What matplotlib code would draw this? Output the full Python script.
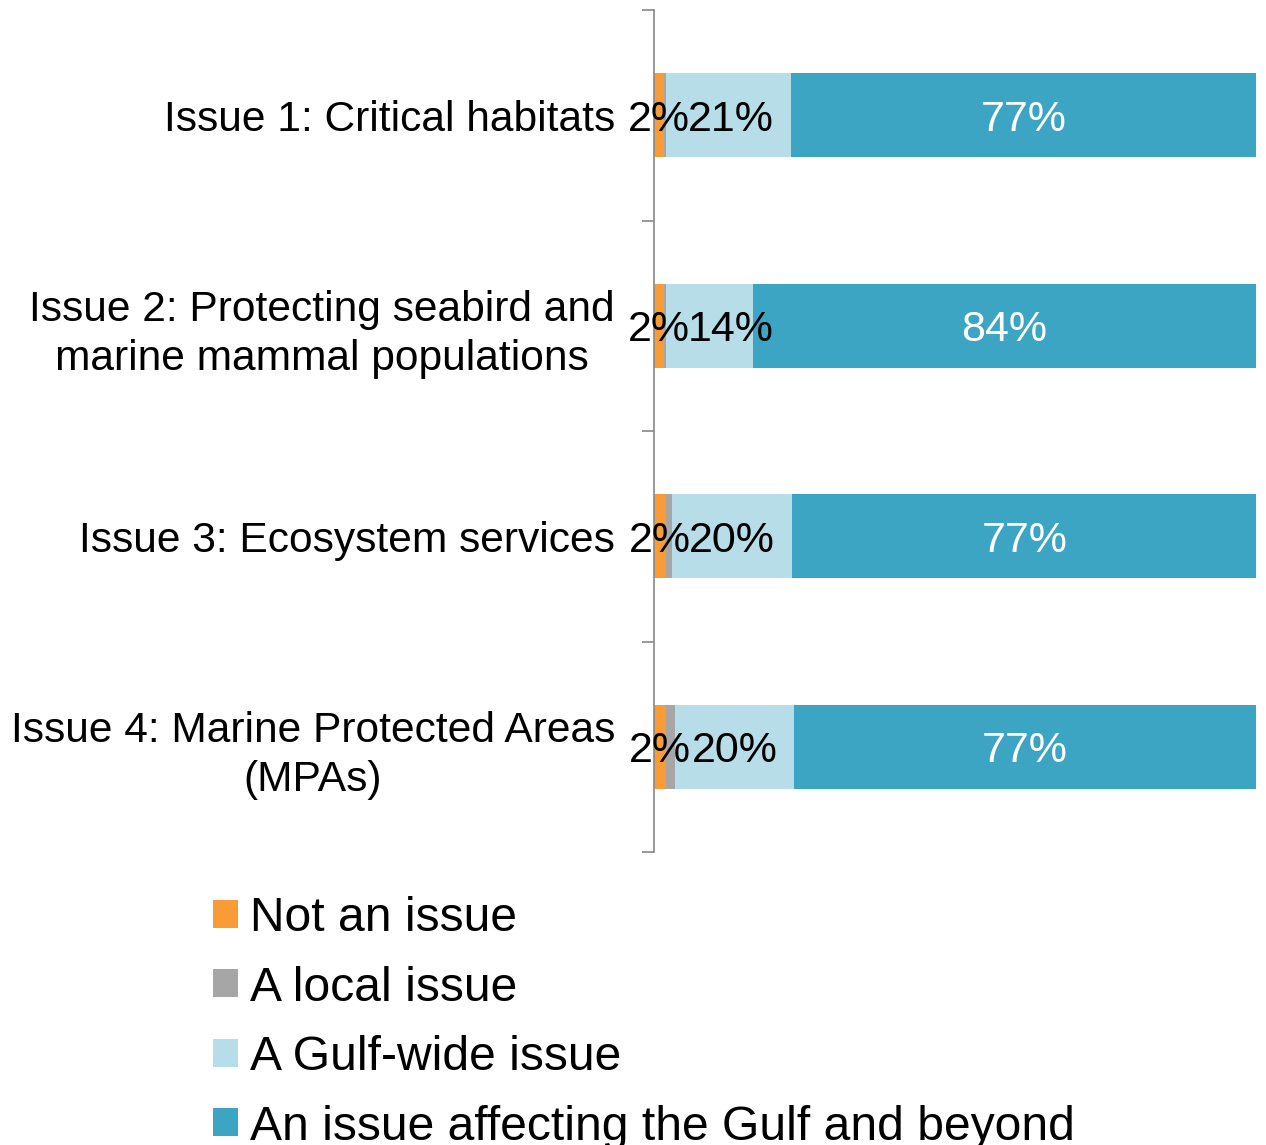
import matplotlib
matplotlib.use('Agg')
import matplotlib.pyplot as plt
import numpy as np

plt.rcParams['font.family'] = ['Liberation Sans', 'DejaVu Sans']

# ── data (percent of respondents)
issues = [
    'Issue 1: Critical habitats',
    'Issue 2: Protecting seabird and\nmarine mammal populations',
    'Issue 3: Ecosystem services',
    'Issue 4: Marine Protected Areas\n(MPAs)',
]
series_names = ['Not an issue', 'A local issue', 'A Gulf-wide issue',
                'An issue affecting the Gulf and beyond']
not_issue = [1.6, 1.6, 2.0, 2.0]
local     = [0.4, 0.4, 1.0, 1.5]
gulf_wide = [20.7, 14.4, 20.0, 19.8]
beyond    = [77.3, 83.6, 77.0, 76.7]

colors = ['#F99B37', '#A6A6A6', '#B7DEE8', '#3CA5C3']
label_colors = ['black', None, 'black', 'white']   # None -> no label
min_label_x = [0, 0, 12.8, 0]   # keep the Gulf-wide label clear of the "2%"

fig = plt.figure(figsize=(12.66, 11.45), dpi=100)
ax = fig.add_axes([654/1266, 1 - 852/1145, (1256 - 654)/1266, (852 - 10)/1145])

y = np.arange(len(issues))
left = np.zeros(len(issues))
for vals, name, col, lc, mx in zip([not_issue, local, gulf_wide, beyond],
                                   series_names, colors, label_colors, min_label_x):
    vals = np.array(vals)
    ax.barh(y, vals, left=left, height=0.4, color=col, label=name)
    if lc is not None:
        for yi, l, v in zip(y, left, vals):
            ax.text(max(l + v / 2, mx), yi, f'{v:.0f}%', ha='center',
                    va='center_baseline', color=lc, fontsize=31)
    left += vals

ax.set_xlim(0, 100)
ax.set_ylim(len(issues) - 0.5, -0.5)
ax.set_xticks([])
ax.set_yticks(y)
ax.set_yticklabels(issues, fontsize=30.6)
for t in ax.get_yticklabels():
    t.set_multialignment('center')
    t.set_linespacing(1.27)
ax.tick_params(axis='y', which='major', length=0, pad=28)
ax.set_yticks(np.arange(-0.5, len(issues), 1.0), minor=True)
ax.tick_params(axis='y', which='minor', length=9, width=1.2, color='#888888',
               direction='out')
for s in ['top', 'right', 'bottom']:
    ax.spines[s].set_visible(False)
ax.spines['left'].set_color('#888888')
ax.spines['left'].set_linewidth(1.2)

fig.legend(loc='upper left', bbox_to_anchor=(213/1266, 1 - 896/1145),
           frameon=False, fontsize=34.6, handlelength=0.52, handleheight=0.52,
           handletextpad=0.25, labelspacing=0.51, borderpad=0, borderaxespad=0)

fig.savefig('out.png', dpi=100)
